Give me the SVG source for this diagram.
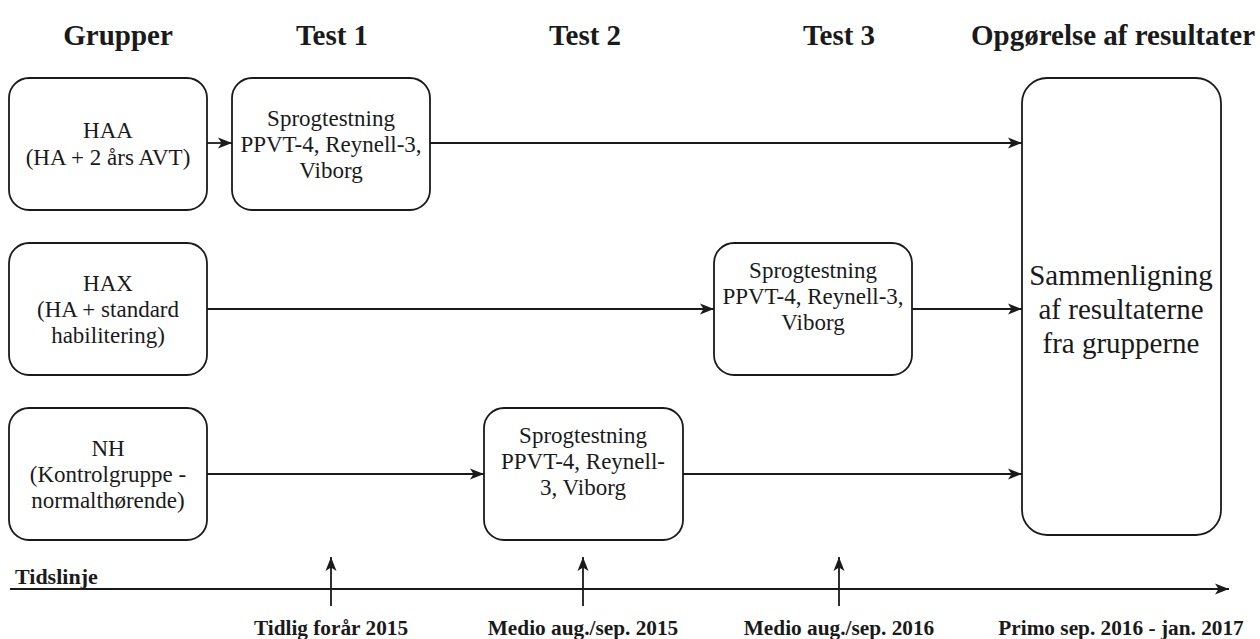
<svg xmlns="http://www.w3.org/2000/svg" width="1260" height="639" viewBox="0 0 1260 639" font-family="'Liberation Serif', 'Times New Roman', serif">
<defs>
<style>
.bx{fill:#fff;stroke:#1a1a1a;stroke-width:1.8}
.ln{fill:none;stroke:#1a1a1a;stroke-width:1.8}
.t{font-size:23px;text-anchor:middle;fill:#1a1a1a}
.h{font-size:29px;font-weight:bold;text-anchor:middle;fill:#1a1a1a}
.b{font-size:21.3px;font-weight:bold;text-anchor:middle;fill:#1a1a1a}
.big{font-size:29px;text-anchor:middle;fill:#1a1a1a}
</style>
<marker id="ar" markerWidth="15" markerHeight="12" refX="14" refY="6" orient="auto" markerUnits="userSpaceOnUse">
<path d="M0,0.5 L14,6 L0,11.5 L3.5,6 z" fill="#1a1a1a"/>
</marker>
</defs>
<rect width="1260" height="639" fill="#fff"/>
<g id="headers" font-family="'Liberation Serif', 'Times New Roman', serif">
<text class="h" x="118" y="45">Grupper</text>
<text class="h" x="332" y="45">Test 1</text>
<text class="h" x="585" y="45">Test 2</text>
<text class="h" x="839" y="45">Test 3</text>
<text class="h" x="1113" y="45">Opgørelse af resultater</text>
</g>
<g id="connectors">
<line class="ln" x1="207" y1="143" x2="232" y2="143" marker-end="url(#ar)"/>
<line class="ln" x1="430" y1="143" x2="1022" y2="143" marker-end="url(#ar)"/>
<line class="ln" x1="207" y1="309" x2="714" y2="309" marker-end="url(#ar)"/>
<line class="ln" x1="912" y1="309" x2="1022" y2="309" marker-end="url(#ar)"/>
<line class="ln" x1="207" y1="474" x2="484" y2="474" marker-end="url(#ar)"/>
<line class="ln" x1="683" y1="474" x2="1022" y2="474" marker-end="url(#ar)"/>
</g>
<g id="haa" font-family="'Liberation Serif', 'Times New Roman', serif">
<rect class="bx" x="9" y="78" width="198" height="132" rx="20"/>
<text class="t" x="108" y="138">HAA</text>
<text class="t" x="108" y="165">(HA + 2 års AVT)</text>
</g>
<g id="test1" font-family="'Liberation Serif', 'Times New Roman', serif">
<rect class="bx" x="232" y="78" width="198" height="132" rx="20"/>
<text class="t" x="331" y="126">Sprogtestning</text>
<text class="t" x="331" y="152">PPVT-4, Reynell-3,</text>
<text class="t" x="331" y="178">Viborg</text>
</g>
<g id="hax" font-family="'Liberation Serif', 'Times New Roman', serif">
<rect class="bx" x="9" y="243" width="198" height="132" rx="20"/>
<text class="t" x="108" y="291">HAX</text>
<text class="t" x="108" y="317">(HA + standard</text>
<text class="t" x="108" y="343">habilitering)</text>
</g>
<g id="test3" font-family="'Liberation Serif', 'Times New Roman', serif">
<rect class="bx" x="714" y="243" width="198" height="132" rx="20"/>
<text class="t" x="813" y="278">Sprogtestning</text>
<text class="t" x="813" y="304">PPVT-4, Reynell-3,</text>
<text class="t" x="813" y="330">Viborg</text>
</g>
<g id="nh" font-family="'Liberation Serif', 'Times New Roman', serif">
<rect class="bx" x="9" y="408" width="198" height="132" rx="20"/>
<text class="t" x="108" y="456">NH</text>
<text class="t" x="108" y="482">(Kontrolgruppe -</text>
<text class="t" x="108" y="508">normalthørende)</text>
</g>
<g id="test2" font-family="'Liberation Serif', 'Times New Roman', serif">
<rect class="bx" x="484" y="408" width="199" height="132" rx="20"/>
<text class="t" x="583" y="443">Sprogtestning</text>
<text class="t" x="583" y="469">PPVT-4, Reynell-</text>
<text class="t" x="583" y="495">3, Viborg</text>
</g>
<g id="result" font-family="'Liberation Serif', 'Times New Roman', serif">
<rect class="bx" x="1022" y="78" width="199" height="457" rx="25"/>
<text class="big" x="1121" y="285">Sammenligning</text>
<text class="big" x="1121" y="319">af resultaterne</text>
<text class="big" x="1121" y="353">fra grupperne</text>
</g>
<g id="timeline" font-family="'Liberation Serif', 'Times New Roman', serif">
<line class="ln" x1="10" y1="589" x2="1229" y2="589" marker-end="url(#ar)"/>
<text x="15" y="584" font-size="22" font-weight="bold" fill="#1a1a1a">Tidslinje</text>
<line class="ln" x1="331" y1="606" x2="331" y2="557" marker-end="url(#ar)"/>
<line class="ln" x1="583" y1="606" x2="583" y2="557" marker-end="url(#ar)"/>
<line class="ln" x1="839" y1="606" x2="839" y2="557" marker-end="url(#ar)"/>
<text class="b" x="331" y="635">Tidlig forår 2015</text>
<text class="b" x="583" y="635">Medio aug./sep. 2015</text>
<text class="b" x="839" y="635">Medio aug./sep. 2016</text>
<text class="b" x="1121" y="635">Primo sep. 2016 - jan. 2017</text>
</g>
</svg>
